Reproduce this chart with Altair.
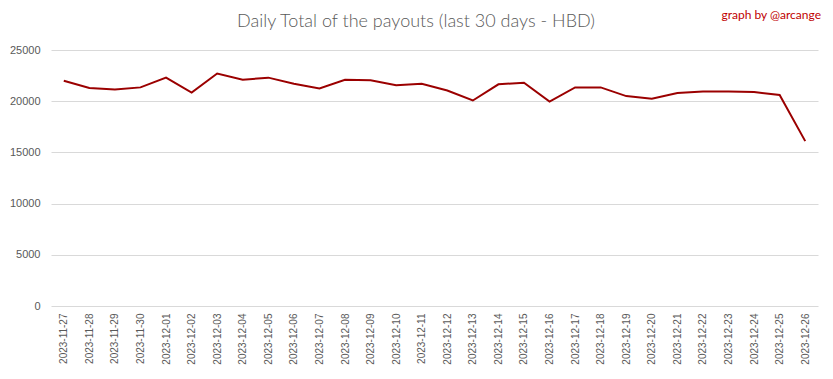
import altair as alt
import pandas as pd

dates = [
    "2023-11-27", "2023-11-28", "2023-11-29", "2023-11-30", "2023-12-01",
    "2023-12-02", "2023-12-03", "2023-12-04", "2023-12-05", "2023-12-06",
    "2023-12-07", "2023-12-08", "2023-12-09", "2023-12-10", "2023-12-11",
    "2023-12-12", "2023-12-13", "2023-12-14", "2023-12-15", "2023-12-16",
    "2023-12-17", "2023-12-18", "2023-12-19", "2023-12-20", "2023-12-21",
    "2023-12-22", "2023-12-23", "2023-12-24", "2023-12-25", "2023-12-26",
]
payouts = [
    22000, 21300, 21150, 21350, 22300,
    20850, 22700, 22100, 22300, 21700,
    21250, 22100, 22050, 21550, 21700,
    21050, 20070, 21650, 21800, 19970,
    21350, 21350, 20500, 20250, 20800,
    20950, 20950, 20900, 20600, 16100,
]
y_ticks = [0, 5000, 10000, 15000, 20000, 25000]

title_text = "Daily Total of the payouts (last 30 days - HBD)"
credit_text = "graph by @arcange"

df = pd.DataFrame({"date": dates, "value": payouts})

W, H = 767, 256

line = alt.Chart(df).mark_line(color="#9b0000", strokeWidth=2).encode(
    x=alt.X(
        "date:N",
        sort=dates,
        scale=alt.Scale(type="point", padding=0.5),
        axis=alt.Axis(
            title=None, labelAngle=270, labelFont="Liberation Sans", labelFontSize=10,
            labelColor="#595959", ticks=False, domain=False, grid=False,
            labelPadding=7, labelAlign="right", labelBaseline="middle",
        ),
    ),
    y=alt.Y(
        "value:Q",
        scale=alt.Scale(domain=[0, 25000], nice=False),
        axis=alt.Axis(
            title=None, values=y_ticks, format="d", labelFont="Liberation Sans",
            labelFontSize=11, labelColor="#595959", ticks=False, domain=False,
            grid=True, gridColor="#d9d9d9", gridWidth=1, labelPadding=11,
        ),
    ),
)

title = alt.Chart(pd.DataFrame({"t": [title_text]})).mark_text(
    font="Lato", fontSize=18, fontWeight=300, color="#595959", align="center", baseline="middle"
).encode(text="t:N", x=alt.value(365), y=alt.value(-28))

credit = alt.Chart(pd.DataFrame({"t": [credit_text]})).mark_text(
    font="Lato", fontSize=12, color="#c00000", align="right", baseline="middle"
).encode(text="t:N", x=alt.value(770), y=alt.value(-35))

chart = alt.layer(line, title, credit).properties(
    width=W, height=H,
    autosize=alt.AutoSizeParams(type="none"),
    padding={"left": 43, "top": 42, "right": 7, "bottom": 64},
).configure_view(stroke=None)

chart.save("out.html", embed_options={"renderer": "svg", "actions": False})
